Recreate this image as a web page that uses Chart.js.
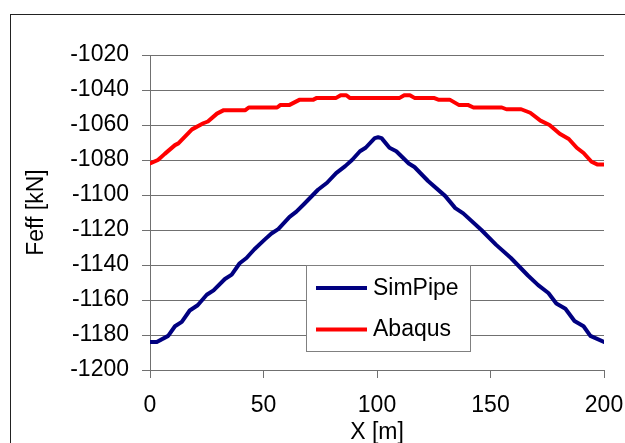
<!DOCTYPE html>
<html>
<head>
<meta charset="utf-8">
<script src="https://cdn.jsdelivr.net/npm/chart.js@4"></script>
<style>
  html, body { margin: 0; padding: 0; background: #fff; overflow: hidden; }
  #wrap { width: 625px; height: 443px; }
</style>
</head>
<body>
<div id="wrap"><canvas id="monGraphique"></canvas></div>
<script>
// valeurs
const simX = [0, 3, 8, 11, 14, 17.5, 21, 25, 28, 33, 36, 39.5, 42.5, 46, 50.5, 53.5, 56.5, 61.5, 64.5, 68,
  71, 74, 78, 82, 86, 89, 92.5, 95, 99, 100.5, 102, 105.5, 108.5, 114, 116.5, 122.5, 130, 134.5, 138, 146,
  152.5, 159, 162, 166.5, 171, 175.5, 179, 183, 187, 191, 194, 200];
const simY = [-1184, -1184, -1180.5, -1175, -1172.5, -1166, -1163, -1157, -1154.5, -1148, -1145.5, -1139, -1136, -1131, -1125.5, -1122, -1119.5, -1112.5, -1109.5, -1105,
  -1101, -1097, -1093, -1087.5, -1083.5, -1080, -1075, -1073, -1067.5, -1067, -1067.5, -1073, -1075, -1082, -1084, -1092, -1100.5, -1107.5, -1110.5, -1120,
  -1128.5, -1136, -1140, -1146, -1151.5, -1156, -1162, -1165, -1172, -1175, -1180.5, -1184];

const abaX = [0, 3.5, 6.5, 11, 12.5, 18.5, 23.5, 25.5, 29.5, 32.5, 42, 43.5, 56, 57.5, 61.5, 66, 72, 73.5, 82, 84,
  86.5, 88, 110, 112, 114.5, 116.5, 125, 127, 132, 136, 140, 142.5, 155, 157, 163.5, 167.5, 172, 176, 180.5, 184.5,
  188, 191, 194.5, 197, 200];
const abaY = [-1082, -1080, -1076.5, -1071.5, -1070.5, -1062.5, -1059, -1058, -1053.5, -1051.5, -1051.5, -1050, -1050, -1048.5, -1048.5, -1045.5, -1045.5, -1044.5, -1044.5, -1043,
  -1043, -1044.5, -1044.5, -1043, -1043, -1044.5, -1044.5, -1045.5, -1045.5, -1048.5, -1048.5, -1050, -1050, -1051, -1051, -1053, -1057.5, -1060, -1065, -1068,
  -1073, -1076, -1081, -1082.5, -1082.5];

const seriesNames = ['SimPipe', 'Abaqus'];
const xTitle = 'X [m]';
const yTitle = 'Feff [kN]';
const xMin = 0, xMax = 200, xStep = 50;
const yMin = -1200, yMax = -1020, yStep = 20;

const FONT = 'Arial, "Liberation Sans", sans-serif';
const gridCol = '#707070';

const toPts = (xs, ys) => xs.map((x, i) => ({ x: x, y: ys[i] }));

// fond blanc + cadre exterieur
const cadre = {
  id: 'cadre',
  beforeDraw(chart) {
    const c = chart.ctx;
    c.save();
    c.fillStyle = '#fff';
    c.fillRect(0, 0, chart.width, chart.height);
    c.restore();
  },
  afterDraw(chart) {
    const c = chart.ctx;
    c.save();
    c.strokeStyle = '#222';
    c.lineWidth = 1;
    c.strokeRect(10.5, 14.5, chart.width + 20, chart.height + 20);
    c.restore();
  }
};

// legende dans la zone du graphique
const legende = {
  id: 'legende',
  afterDraw(chart) {
    const c = chart.ctx;
    const bx = 306.5, by = 265.5, bw = 164, bh = 86;
    c.save();
    c.fillStyle = '#fff';
    c.fillRect(bx, by, bw, bh);
    c.strokeStyle = '#808080';
    c.lineWidth = 1;
    c.strokeRect(bx, by, bw, bh);
    c.font = '23px ' + FONT;
    c.textBaseline = 'alphabetic';
    c.fillStyle = '#000';
    const rows = [288, 329.5];
    chart.data.datasets.forEach((ds, i) => {
      c.strokeStyle = ds.borderColor;
      c.lineWidth = 4;
      c.beginPath();
      c.moveTo(316, rows[i]);
      c.lineTo(367, rows[i]);
      c.stroke();
      c.fillText(ds.label, 373, rows[i] + 6.5);
    });
    c.restore();
  }
};

const ctx = document.getElementById('monGraphique').getContext('2d');
new Chart(ctx, {
  type: 'line',
  data: {
    datasets: [{
      label: seriesNames[0],
      data: toPts(simX, simY),
      borderColor: '#000080',
      borderWidth: 4,
      pointRadius: 0,
      tension: 0,
      borderJoinStyle: 'round',
      borderCapStyle: 'round'
    }, {
      label: seriesNames[1],
      data: toPts(abaX, abaY),
      borderColor: '#ff0000',
      borderWidth: 4,
      pointRadius: 0,
      tension: 0,
      borderJoinStyle: 'round',
      borderCapStyle: 'round'
    }]
  },
  options: {
    responsive: true,
    maintainAspectRatio: false,
    animation: false,
    layout: { padding: { top: 55, right: 21, left: 0, bottom: 0 } },
    plugins: { legend: { display: false }, tooltip: { enabled: false } },
    scales: {
      x: {
        type: 'linear',
        min: xMin, max: xMax,
        ticks: { stepSize: xStep, color: '#000', padding: 14, font: { family: FONT, size: 23 }, maxRotation: 0,
          callback: v => String(v) },
        grid: { drawOnChartArea: false, color: gridCol, tickLength: 8 },
        border: { color: gridCol },
        title: { display: true, text: xTitle, color: '#000', font: { family: FONT, size: 23, lineHeight: 0.9 }, padding: { top: 0, bottom: 0 } },
        afterFit(s) { s.height = 73; s.paddingLeft = 0; s.paddingRight = 0; }
      },
      y: {
        min: yMin, max: yMax,
        ticks: { stepSize: yStep, color: '#000', padding: 13, font: { family: FONT, size: 23 },
          callback: v => String(v) },
        grid: { color: gridCol, tickLength: 8 },
        border: { color: gridCol },
        title: { display: true, text: yTitle, color: '#000', font: { family: FONT, size: 23, lineHeight: 1 }, padding: { top: 25, bottom: 0 } },
        afterFit(s) { s.width = 150; s.paddingTop = 0; s.paddingBottom = 0; }
      }
    }
  },
  plugins: [cadre, legende]
});
</script>
</body>
</html>
